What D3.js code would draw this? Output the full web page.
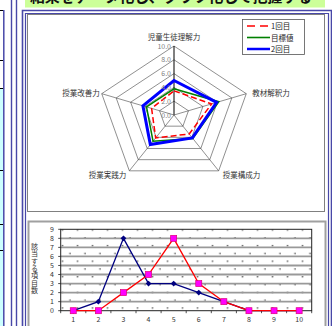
<!DOCTYPE html>
<html>
<head>
<meta charset="utf-8">
<script src="https://cdn.jsdelivr.net/npm/d3@7"></script>
<style>
  body { margin: 0; background: #fff; }
  svg { display: block; font-family: "Noto Sans CJK JP", "Noto Sans", sans-serif; }
</style>
</head>
<body>
<div id="vis"></div>
<script>
// radar chart data (scale 0 - 10)
var radarAxes = ["児童生徒理解力", "教材解釈力", "授業構成力", "授業実践力", "授業改善力"];
var radarTicks = [0, 2, 4, 6, 8, 10];
var round1 = [3.5, 5.2, 3.4, 4.1, 3.1];   // 1回目
var target = [3.8, 6.2, 4.2, 4.7, 3.8];   // 目標値
var round2 = [5.0, 5.9, 4.1, 5.3, 4.3];   // 2回目
var seriesNames = ["1回目", "目標値", "2回目"];

// line chart data: number of items per score
var categories = [1, 2, 3, 4, 5, 6, 7, 8, 9, 10];
var countsBlue = [0, 1, 8, 3, 3, 2, 1, 0, 0, 0];
var countsRed = [0, 0, 2, 4, 8, 3, 1, 0, 0, 0];
var countTicks = [0, 1, 2, 3, 4, 5, 6, 7, 8, 9];
var yTitle = "該当する項目数";

var W = 332, H = 326;
var frameBlue = "#4848a8";

var svg = d3.select("#vis").append("svg").attr("width", W).attr("height", H);

// ---- page decoration around the charts ----
// piece of a table on the far left
svg.append("rect").attr("x", 0).attr("y", 88).attr("width", 3.5).attr("height", H - 88).attr("fill", "#ccffff");
[10, 60, 88, 170, 224, 250].forEach(function(y) {
    svg.append("line").attr("x1", 0).attr("x2", 3.5).attr("y1", y + 0.5).attr("y2", y + 0.5)
       .attr("stroke", "#000").attr("stroke-width", 1);
});
svg.append("line").attr("x1", 3.8).attr("x2", 3.8).attr("y1", 10).attr("y2", H)
   .attr("stroke", frameBlue).attr("stroke-width", 1.5);
[11.5, 16.5].forEach(function(x) {
    svg.append("line").attr("x1", x).attr("x2", x).attr("y1", 0).attr("y2", H)
       .attr("stroke", frameBlue).attr("stroke-width", 1.4);
});

// green title bar, text cut at the top
svg.append("rect").attr("x", 25).attr("y", 0).attr("width", 300).attr("height", 7.5).attr("fill", "#ccff99");
svg.append("text").attr("x", 30).attr("y", 1.5).attr("font-size", 15).attr("font-weight", "bold")
   .attr("fill", "#111").attr("textLength", 282)
   .text("結果をデータ化し、グラフ化して把握する");

// blue double frame of the panel
svg.append("path").attr("d", "M22.5," + H + "V10.5H331.5V" + H)
   .attr("fill", "none").attr("stroke", frameBlue).attr("stroke-width", 1.6);
svg.append("path").attr("d", "M25.5," + H + "V13.5H328.5V" + H)
   .attr("fill", "none").attr("stroke", frameBlue).attr("stroke-width", 1.2);

// chart boxes
svg.append("rect").attr("x", 27.5).attr("y", 14.5).attr("width", 297).attr("height", 197)
   .attr("fill", "#fff").attr("stroke", "#808080").attr("stroke-width", 1);
svg.append("rect").attr("x", 28.5).attr("y", 221.5).attr("width", 297).attr("height", 130)
   .attr("fill", "#fff").attr("stroke", "#a0a0a0").attr("stroke-width", 2);

// ---- radar chart ----
var cx = 174, cy = 115;
var rX = d3.scaleLinear().domain([0, 10]).range([0, 76]);
var rY = d3.scaleLinear().domain([0, 10]).range([0, 69]);
var angle = d3.scaleLinear().domain([0, radarAxes.length]).range([0, 2 * Math.PI]);

function pt(i, v) {
    var a = angle(i);
    return [cx + rX(v) * Math.sin(a), cy - rY(v) * Math.cos(a)];
}
function ring(values) {
    return "M" + values.map(function(v, i) { return pt(i, v).join(","); }).join("L") + "Z";
}

var radar = svg.append("g");
radar.selectAll("path.grid")
     .data(radarTicks.filter(function(t) { return t > 0; })).enter().append("path")
     .attr("class", "grid")
     .attr("d", function(t) { return ring(radarAxes.map(function() { return t; })); })
     .attr("fill", "none").attr("stroke", "#444").attr("stroke-width", 0.6);
radar.selectAll("line.spoke")
     .data(radarAxes).enter().append("line")
     .attr("class", "spoke")
     .attr("x1", cx).attr("y1", cy)
     .attr("x2", function(d, i) { return pt(i, 10)[0]; })
     .attr("y2", function(d, i) { return pt(i, 10)[1]; })
     .attr("stroke", function(d, i) { return i === 0 ? "#000" : "#444"; })
     .attr("stroke-width", function(d, i) { return i === 0 ? 1 : 0.6; });

// axis labels
var labelPos = [
    {dx: 0, dy: -6.5, anchor: "middle"},
    {dx: 6, dy: 2.5, anchor: "start"},
    {dx: 4, dy: 7, anchor: "start"},
    {dx: -3, dy: 7, anchor: "end"},
    {dx: -2, dy: 2.5, anchor: "end"}
];
radar.selectAll("text.axis")
     .data(radarAxes).enter().append("text")
     .attr("class", "axis")
     .attr("x", function(d, i) { return pt(i, 10)[0] + labelPos[i].dx; })
     .attr("y", function(d, i) { return pt(i, 10)[1] + labelPos[i].dy; })
     .attr("text-anchor", function(d, i) { return labelPos[i].anchor; })
     .attr("font-size", 7.5).attr("fill", "#333")
     .text(function(d) { return d; });

// series
var radarSeries = [
    {values: round1, color: "#ff0000", width: 1.5, dash: "6,3"},
    {values: target, color: "#008000", width: 1.5, dash: null},
    {values: round2, color: "#0000ff", width: 3, dash: null}
];
radar.selectAll("path.series")
     .data(radarSeries).enter().append("path")
     .attr("class", "series")
     .attr("d", function(s) { return ring(s.values); })
     .attr("fill", "none")
     .attr("stroke", function(s) { return s.color; })
     .attr("stroke-width", function(s) { return s.width; })
     .attr("stroke-dasharray", function(s) { return s.dash; })
     .attr("stroke-linejoin", "miter");

// tick labels on the top axis
radar.selectAll("text.tick")
     .data(radarTicks).enter().append("text")
     .attr("class", "tick")
     .attr("x", cx - 3)
     .attr("y", function(t) { return cy - rY(t) + 2.5; })
     .attr("text-anchor", "end")
     .attr("font-size", 7).attr("fill", "#808080")
     .text(function(t) { return d3.format(".1f")(t); });

// legend
var legend = svg.append("g");
legend.append("rect").attr("x", 242.5).attr("y", 19.5).attr("width", 62).attr("height", 35)
      .attr("fill", "#fff").attr("stroke", "#555").attr("stroke-width", 0.8);
var leg = legend.selectAll("g.item").data(radarSeries).enter().append("g")
      .attr("transform", function(s, i) { return "translate(0," + (26 + i * 11.5) + ")"; });
leg.append("line").attr("x1", 247).attr("x2", 270).attr("y1", 0).attr("y2", 0)
   .attr("stroke", function(s) { return s.color; })
   .attr("stroke-width", function(s) { return s.width === 3 ? 2.5 : 1.6; })
   .attr("stroke-dasharray", function(s) { return s.dash ? "8,5" : null; });
leg.append("text").attr("x", 271).attr("y", 3).attr("font-size", 7.5).attr("fill", "#222")
   .text(function(s, i) { return seriesNames[i]; });

// ---- line chart ----
var plotL = 60.7, plotR = 311.7, plotT = 229.3, plotB = 310.7;
var xScale = d3.scaleBand().domain(categories).range([plotL, plotR]);
var yScale = d3.scaleLinear().domain([0, 9]).range([plotB, plotT]);
var xc = function(d) { return xScale(d) + xScale.bandwidth() / 2; };

var defs = svg.append("defs");
var pat = defs.append("pattern").attr("id", "dots").attr("patternUnits", "userSpaceOnUse")
    .attr("x", plotL + 1).attr("y", plotT).attr("width", 15).attr("height", 15.6);
pat.append("circle").attr("cx", 0.8).attr("cy", 0.8).attr("r", 0.75).attr("fill", "#222");
pat.append("circle").attr("cx", 8.3).attr("cy", 8.6).attr("r", 0.75).attr("fill", "#222");

var lc = svg.append("g");
lc.append("rect").attr("x", plotL).attr("y", plotT).attr("width", plotR - plotL).attr("height", plotB - plotT)
  .attr("fill", "url(#dots)");
lc.selectAll("line.grid")
  .data(countTicks.filter(function(t) { return t > 0 && t < 9; })).enter().append("line")
  .attr("class", "grid")
  .attr("x1", plotL).attr("x2", plotR)
  .attr("y1", function(t) { return yScale(t); }).attr("y2", function(t) { return yScale(t); })
  .attr("stroke", "#999").attr("stroke-width", 1.8);
lc.append("rect").attr("x", plotL).attr("y", plotT).attr("width", plotR - plotL).attr("height", plotB - plotT)
  .attr("fill", "none").attr("stroke", "#222").attr("stroke-width", 1);

// axis ticks
lc.selectAll("line.ytick").data(countTicks).enter().append("line")
  .attr("x1", plotL - 2.5).attr("x2", plotL)
  .attr("y1", function(t) { return yScale(t); }).attr("y2", function(t) { return yScale(t); })
  .attr("stroke", "#222").attr("stroke-width", 0.8);
lc.selectAll("line.xtick").data(categories.concat([11])).enter().append("line")
  .attr("x1", function(d, i) { return plotL + i * xScale.bandwidth(); })
  .attr("x2", function(d, i) { return plotL + i * xScale.bandwidth(); })
  .attr("y1", plotB).attr("y2", plotB + 2.5)
  .attr("stroke", "#222").attr("stroke-width", 0.8);

// tick labels
lc.selectAll("text.ylab").data(countTicks).enter().append("text")
  .attr("x", 52).attr("y", function(t) { return yScale(t) + 2.5; })
  .attr("text-anchor", "middle").attr("font-size", 7).attr("fill", "#333")
  .text(function(t) { return t; });
lc.selectAll("text.xlab").data(categories).enter().append("text")
  .attr("x", xc).attr("y", 321.5)
  .attr("text-anchor", "middle").attr("font-size", 7).attr("fill", "#333")
  .text(function(d) { return d; });

// vertical axis title (vertical writing, upright characters)
lc.append("text")
  .attr("x", 34.5).attr("y", 243)
  .style("writing-mode", "vertical-rl")
  .style("text-orientation", "upright")
  .attr("letter-spacing", 0.3)
  .attr("font-size", 7).attr("fill", "#333")
  .text(yTitle);

var line = d3.line().x(function(d, i) { return xc(categories[i]); }).y(function(d) { return yScale(d); });

lc.append("path").datum(countsBlue).attr("d", line)
  .attr("fill", "none").attr("stroke", "#000080").attr("stroke-width", 1.3);
lc.selectAll("path.diamond").data(countsBlue).enter().append("path")
  .attr("class", "diamond")
  .attr("d", d3.symbol().type(d3.symbolDiamond2).size(22))
  .attr("transform", function(d, i) { return "translate(" + xc(categories[i]) + "," + yScale(d) + ")"; })
  .attr("fill", "#000080");

lc.append("path").datum(countsRed).attr("d", line)
  .attr("fill", "none").attr("stroke", "#ff0000").attr("stroke-width", 1.3);
lc.selectAll("rect.square").data(countsRed).enter().append("rect")
  .attr("class", "square")
  .attr("x", function(d, i) { return xc(categories[i]) - 3; })
  .attr("y", function(d) { return yScale(d) - 3; })
  .attr("width", 6).attr("height", 6)
  .attr("fill", "#ff00ff").attr("stroke", "#e0007a").attr("stroke-width", 0.7);
</script>
</body>
</html>
